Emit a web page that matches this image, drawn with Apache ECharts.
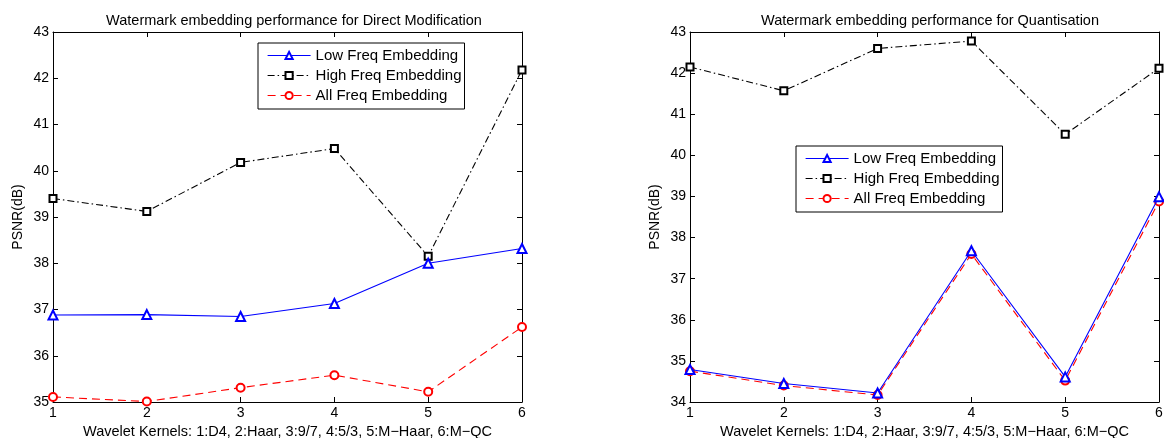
<!DOCTYPE html>
<html><head><meta charset="utf-8">
<script src="https://cdn.jsdelivr.net/npm/echarts@6/dist/echarts.min.js"></script>
<style>html,body{margin:0;padding:0;background:#fff}#c{width:1164px;height:438px}</style>
</head><body><div id="c"></div>
<script>
const kernels = [1, 2, 3, 4, 5, 6];
const seriesNames = ['Low Freq Embedding', 'High Freq Embedding', 'All Freq Embedding'];
const titles = ['Watermark embedding performance for Direct Modification', 'Watermark embedding performance for Quantisation'];
const xTitle = 'Wavelet Kernels: 1:D4, 2:Haar, 3:9/7, 4:5/3, 5:M\u2212Haar, 6:M\u2212QC';
const yTitle = 'PSNR(dB)';
// Direct Modification
const dmLow = [36.88, 36.89, 36.85, 37.13, 38.00, 38.32];
const dmHigh = [39.40, 39.12, 40.18, 40.48, 38.15, 42.18];
const dmAll = [35.11, 35.01, 35.31, 35.58, 35.22, 36.62];
// Quantisation
const qLow = [34.79, 34.45, 34.22, 37.68, 34.61, 38.99];
const qHigh = [42.15, 41.57, 42.60, 42.78, 40.51, 42.12];
const qAll = [34.75, 34.40, 34.17, 37.60, 34.52, 38.88];

const FONT = 'Liberation Sans, Arial, Helvetica, sans-serif';
const pairs = (ys) => kernels.map((k, i) => [k, ys[i]]);

const styles = [
  { color: '#0000ff', type: 'solid', symbol: 'emptyTriangle', size: 9 },
  { color: '#000000', type: [7, 3, 1.5, 3], symbol: 'emptyRect', size: 7 },
  { color: '#ff0000', type: [8, 5], symbol: 'emptyCircle', size: 8 }
];

function mkSeries(name, idx, ys, axisIdx) {
  const s = styles[idx];
  return {
    name, type: 'line', xAxisIndex: axisIdx, yAxisIndex: axisIdx,
    data: pairs(ys), symbol: s.symbol, symbolSize: s.size, showSymbol: true,
    lineStyle: { color: s.color, width: 1.1, type: s.type },
    itemStyle: { color: s.color, borderColor: s.color, borderWidth: 1.1 },
    emphasis: { disabled: true }, animation: false, clip: false, z: 5 - idx
  };
}

const grids = [
  { left: 53, right: 642, top: 32, bottom: 36, containLabel: false, outerBoundsMode: 'none' },
  { left: 690, right: 5, top: 32, bottom: 36, containLabel: false, outerBoundsMode: 'none' }
];
const yRanges = [[35, 43], [34, 43]];

const xAxes = [], yAxes = [];
grids.forEach((g, gi) => {
  xAxes.push({
    type: 'value', gridIndex: gi, min: 1, max: 6, interval: 1, position: 'bottom',
    name: xTitle, nameLocation: 'middle', nameGap: 19,
    nameTextStyle: { fontFamily: FONT, fontSize: 14.5, color: '#000' },
    axisLine: { lineStyle: { color: '#000', width: 1 } },
    axisTick: { inside: true, length: 5, lineStyle: { color: '#000' } },
    axisLabel: { fontFamily: FONT, fontSize: 14, color: '#000', margin: 4 },
    splitLine: { show: false }
  });
  xAxes.push({
    type: 'value', gridIndex: gi, min: 1, max: 6, interval: 1, position: 'top',
    axisLine: { lineStyle: { color: '#000', width: 1 } },
    axisTick: { inside: true, length: 5, lineStyle: { color: '#000' } },
    axisLabel: { show: false }, splitLine: { show: false }
  });
  yAxes.push({
    type: 'value', gridIndex: gi, min: yRanges[gi][0], max: yRanges[gi][1], interval: 1, position: 'left',
    name: yTitle, nameLocation: 'middle', nameGap: 28, nameRotate: 90,
    nameTextStyle: { fontFamily: FONT, fontSize: 14, color: '#000' },
    axisLine: { show: true, lineStyle: { color: '#000', width: 1 } },
    axisTick: { show: true, inside: true, length: 5, lineStyle: { color: '#000' } },
    axisLabel: { fontFamily: FONT, fontSize: 14, color: '#000', margin: 4 },
    splitLine: { show: false }
  });
  yAxes.push({
    type: 'value', gridIndex: gi, min: yRanges[gi][0], max: yRanges[gi][1], interval: 1, position: 'right',
    axisLine: { show: true, lineStyle: { color: '#000', width: 1 } },
    axisTick: { show: true, inside: true, length: 5, lineStyle: { color: '#000' } },
    axisLabel: { show: false }, splitLine: { show: false }
  });
});

const series = [
  mkSeries(seriesNames[0], 0, dmLow, 0),
  mkSeries(seriesNames[1], 1, dmHigh, 0),
  mkSeries(seriesNames[2], 2, dmAll, 0),
  mkSeries(seriesNames[0], 0, qLow, 2),
  mkSeries(seriesNames[1], 1, qHigh, 2),
  mkSeries(seriesNames[2], 2, qAll, 2)
];

const legendCommon = {
  orient: 'vertical', data: seriesNames, itemWidth: 43, itemHeight: 9, itemGap: 5,
  borderColor: '#000', borderWidth: 1, padding: [5, 3, 6, 9], backgroundColor: '#fff',
  itemStyle: { borderWidth: 1.1 }, lineStyle: { width: 1.2 },
  textStyle: { fontFamily: FONT, fontSize: 15, color: '#000' }, selectedMode: false
};

const chart = echarts.init(document.getElementById('c'), null, { renderer: 'canvas' });
chart.setOption({
  animation: false,
  backgroundColor: '#fff',
  title: [
    { text: titles[0], left: 289, top: 8, textAlign: 'center', textStyle: { fontFamily: FONT, fontSize: 14.5, fontWeight: 'normal', color: '#000' } },
    { text: titles[1], left: 925, top: 8, textAlign: 'center', textStyle: { fontFamily: FONT, fontSize: 14.5, fontWeight: 'normal', color: '#000' } }
  ],
  grid: grids,
  xAxis: xAxes,
  yAxis: yAxes,
  legend: [
    Object.assign({ left: 258, top: 43 }, legendCommon),
    Object.assign({ left: 796, top: 146 }, legendCommon)
  ],
  series
});
</script></body></html>
